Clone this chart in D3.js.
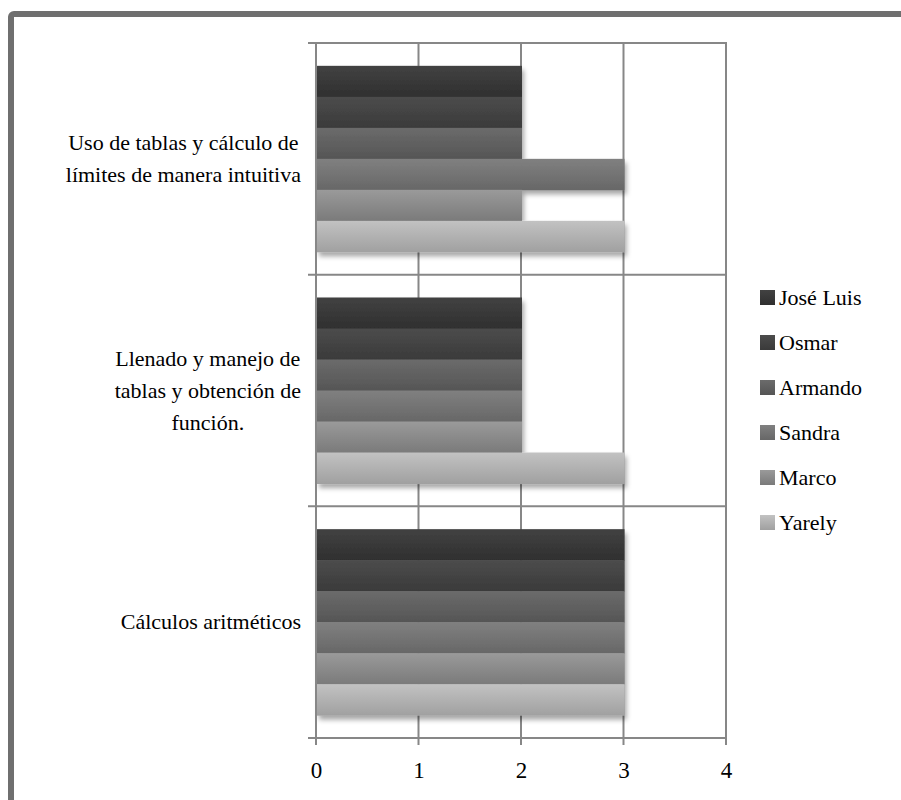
<!DOCTYPE html>
<html>
<head>
<meta charset="utf-8">
<script src="https://cdn.jsdelivr.net/npm/d3@7"></script>
<style>
  body { margin: 0; background: #fff; }
</style>
</head>
<body>
<div id="chart"></div>
<script>
// categories top to bottom
const categories = [
    ["Uso de tablas y cálculo de", "límites de manera intuitiva"],
    ["Llenado y manejo de", "tablas y obtención de", "función."],
    ["Cálculos aritméticos"]
];
const catKeys = ["uso", "llenado", "calculos"];

// series, top bar first within each group
const series = ["José Luis", "Osmar", "Armando", "Sandra", "Marco", "Yarely"];
const valuesUso      = [2, 2, 2, 3, 2, 3];
const valuesLlenado  = [2, 2, 2, 2, 2, 3];
const valuesCalculos = [3, 3, 3, 3, 3, 3];
const xTicks = [0, 1, 2, 3, 4];

// gradient stops per series (top, bottom)
const shades = [
    ["#424242", "#2f2f2f"],
    ["#4c4c4c", "#3a3a3a"],
    ["#6b6b6b", "#555555"],
    ["#808080", "#676767"],
    ["#9a9a9a", "#7a7a7a"],
    ["#c2c2c2", "#a0a0a0"]
];

const allValues = [valuesUso, valuesLlenado, valuesCalculos];
const FONT = "'Liberation Serif', Tinos, 'Times New Roman', Times, 'DejaVu Serif', serif";

const W = 901, H = 800;
const svg = d3.select("#chart").append("svg")
    .attr("width", W)
    .attr("height", H);

const defs = svg.append("defs");
shades.forEach(function (s, i) {
    const g = defs.append("linearGradient")
        .attr("id", "grad" + i)
        .attr("x1", 0).attr("y1", 0).attr("x2", 0).attr("y2", 1);
    g.append("stop").attr("offset", "0%").attr("stop-color", s[0]);
    g.append("stop").attr("offset", "100%").attr("stop-color", s[1]);
});
const shadow = defs.append("filter").attr("id", "shadow")
    .attr("x", "-5%").attr("y", "-5%").attr("width", "115%").attr("height", "120%");
shadow.append("feDropShadow")
    .attr("dx", 2).attr("dy", 4).attr("stdDeviation", 2.5)
    .attr("flood-color", "#000").attr("flood-opacity", 0.35);

// frame
svg.append("rect")
    .attr("x", 11).attr("y", 14)
    .attr("width", 1000).attr("height", 1000)
    .attr("rx", 3)
    .attr("fill", "#fff")
    .attr("stroke", "#6f6f6f")
    .attr("stroke-width", 6);

const x = d3.scaleLinear().domain([0, 4]).range([316, 726]);
const y0 = d3.scaleBand().domain(catKeys).range([43, 738]);
const bw = y0.bandwidth();
const y1 = d3.scaleBand().domain(series).range([bw * 0.0985, bw * 0.9015]);

const lineColor = "#878787";

// vertical gridlines
svg.append("g").selectAll("line")
    .data(xTicks)
    .enter().append("line")
    .attr("x1", d => x(d)).attr("x2", d => x(d))
    .attr("y1", 43).attr("y2", 745)
    .attr("stroke", lineColor)
    .attr("stroke-width", 2);

// horizontal category lines
const bounds = catKeys.map(k => y0(k)).concat([y0.range()[1]]);
svg.append("g").selectAll("line")
    .data(bounds)
    .enter().append("line")
    .attr("x1", 308).attr("x2", x(4) + 1)
    .attr("y1", d => d).attr("y2", d => d)
    .attr("stroke", lineColor)
    .attr("stroke-width", 2);

// bars
catKeys.forEach(function (k, ci) {
    const g = svg.append("g")
        .attr("transform", "translate(0," + y0(k) + ")")
        .attr("filter", "url(#shadow)");
    g.selectAll("rect")
        .data(allValues[ci].map((v, i) => ({ name: series[i], v: v, i: i })))
        .enter().append("rect")
        .attr("x", x(0) + 1)
        .attr("y", d => y1(d.name))
        .attr("width", d => x(d.v) - x(0))
        .attr("height", y1.bandwidth() + 0.5)
        .attr("fill", d => "url(#grad" + d.i + ")");
});

// redraw axis line at 0 over bars
svg.append("line")
    .attr("x1", x(0)).attr("x2", x(0))
    .attr("y1", 43).attr("y2", 745)
    .attr("stroke", lineColor)
    .attr("stroke-width", 2);

// x axis labels
const xAxis = d3.axisBottom(x).tickValues(xTicks).tickFormat(d3.format("d")).tickSize(0).tickPadding(0);
const ax = svg.append("g")
    .attr("transform", "translate(0,738)")
    .call(xAxis)
    .attr("font-family", FONT)
    .attr("font-size", 23);
ax.select(".domain").remove();
ax.selectAll("text")
    .attr("y", 40)
    .attr("dy", 0)
    .attr("fill", "#000");

// category labels
const lineH = 32;
catKeys.forEach(function (k, ci) {
    const lines = categories[ci];
    const cy = y0(k) + bw / 2;
    const texts = svg.append("g").selectAll("text")
        .data(lines)
        .enter().append("text")
        .attr("text-anchor", "middle")
        .attr("font-family", FONT)
        .attr("font-size", 22)
        .attr("y", (d, i) => cy + (i - (lines.length - 1) / 2) * lineH + 7)
        .text(d => d);
    let maxW = 0;
    texts.each(function () { maxW = Math.max(maxW, this.getComputedTextLength()); });
    texts.attr("x", 301 - maxW / 2);
});

// legend
const legend = svg.append("g").attr("transform", "translate(760,297)");
const items = legend.selectAll("g")
    .data(series)
    .enter().append("g")
    .attr("transform", (d, i) => "translate(0," + i * 45 + ")");
items.append("rect")
    .attr("x", 0).attr("y", -7)
    .attr("width", 15).attr("height", 15)
    .attr("fill", (d, i) => "url(#grad" + i + ")");
items.append("text")
    .attr("x", 19).attr("y", 8)
    .attr("font-family", FONT)
    .attr("font-size", 22)
    .text(d => d);
</script>
</body>
</html>
